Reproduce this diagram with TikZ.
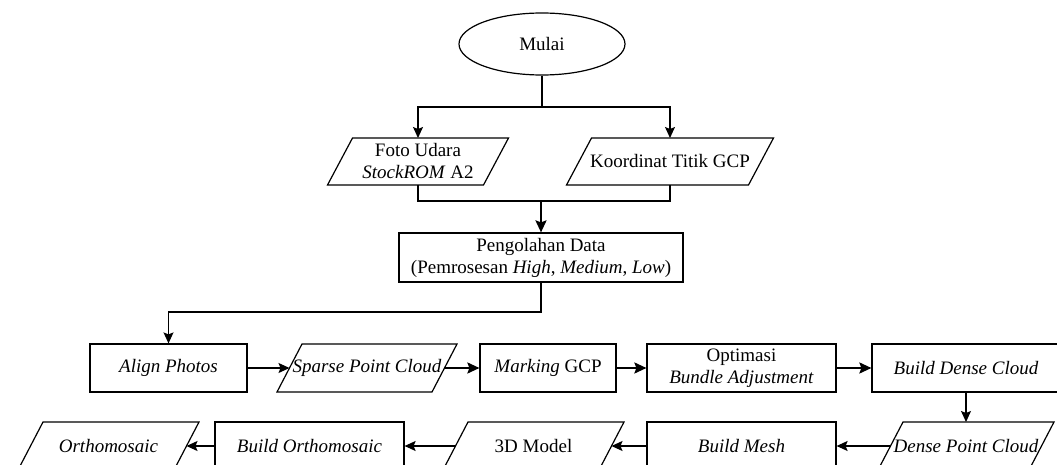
\documentclass[tikz,border=0pt]{standalone}
\usepackage{fontspec}
\setmainfont{Liberation Serif}
\usetikzlibrary{shapes.geometric,arrows.meta,calc}
\begin{document}
\begin{tikzpicture}[x=1pt,y=-1pt,
  every node/.style={font=\fontsize{19pt}{22pt}\selectfont, align=center},
  ln/.style={line width=1.2pt, draw=black},
  arr/.style={ln, -{Stealth[length=11pt,width=10pt,inset=2pt]}},
  tarr/.style={line width=2.2pt, -{Stealth[length=12pt,width=11pt,inset=2pt]}},
  proc/.style={ln, rectangle, minimum height=48pt, inner sep=0pt},
  io/.style={rectangle, minimum height=48pt, inner sep=0pt, outer sep=0pt},
  term/.style={ln, ellipse, minimum width=166pt, minimum height=62pt, inner sep=0pt}]
\path[use as bounding box, clip] (0,0) rectangle (1057,465);

% nodes
\node[term] (mulai) at (542,44) {Mulai};
\node[io, minimum width=156pt, minimum height=47pt] (foto) at (418,161.5) {Foto Udara\\\textit{StockROM} A2};
\node[io, minimum width=182pt, minimum height=47pt] (koord) at (670,161.5) {Koordinat Titik GCP};
\node[proc, minimum width=284pt, minimum height=49pt] (olah) at (541,257.5) {Pengolahan Data\\(Pemrosesan \textit{High}, \textit{Medium}, \textit{Low})};

\node[proc, minimum width=157pt] (align) at (168.5,368) {\textit{Align Photos}};
\node[io, minimum width=155pt] (sparse) at (367,368) {\textit{Sparse Point Cloud}};
\node[proc, minimum width=136pt] (mark) at (548,368) {\textit{Marking} GCP};
\node[proc, minimum width=189pt] (optim) at (741.5,368) {Optimasi\\\textit{Bundle Adjustment}};
\node[proc, minimum width=188pt] (dense) at (966,368) {\textit{Build Dense Cloud}};

\node[io, minimum width=151pt] (densepc) at (966,446) {\textit{Dense Point Cloud}};
\node[proc, minimum width=189pt] (mesh) at (741.5,446) {\textit{Build Mesh}};
\node[io, minimum width=156pt] (model) at (533.5,446) {3D Model};
\node[proc, minimum width=189pt] (borth) at (309.5,446) {\textit{Build Orthomosaic}};
\node[io, minimum width=156pt] (ortho) at (108.5,446) {\textit{Orthomosaic}};

% parallelograms
\foreach \n in {foto,koord,sparse,densepc,model,ortho}
  \draw[ln] ([xshift=12.5pt]\n.north west) -- ([xshift=12.5pt]\n.north east)
    -- ([xshift=-12.5pt]\n.south east) -- ([xshift=-12.5pt]\n.south west) -- cycle;

% connectors
\coordinate (j1) at (542,107);
\draw[ln] (mulai.south) -- (j1);
\draw[arr] (j1) -| (foto.north);
\draw[arr] (j1) -| (koord.north);

\coordinate (j2) at (541,201);
\draw[ln] (foto.south) |- (j2) -| (koord.south);
\draw[tarr] (j2) -- (olah.north);

\coordinate (j3) at (541,312);
\draw[arr] (olah.south) -- (j3) -| (align.north);

\draw[arr] (align.east) -- (sparse.west);
\draw[tarr] (sparse.east) -- (mark.west);
\draw[tarr] (mark.east) -- (optim.west);
\draw[tarr] (optim.east) -- (dense.west);
\draw[arr] (dense.south) -- (densepc.north);
\draw[arr] (densepc.west) -- (mesh.east);
\draw[arr] (mesh.west) -- (model.east);
\draw[arr] (model.west) -- (borth.east);
\draw[arr] (borth.west) -- (ortho.east);
\end{tikzpicture}
\end{document}
